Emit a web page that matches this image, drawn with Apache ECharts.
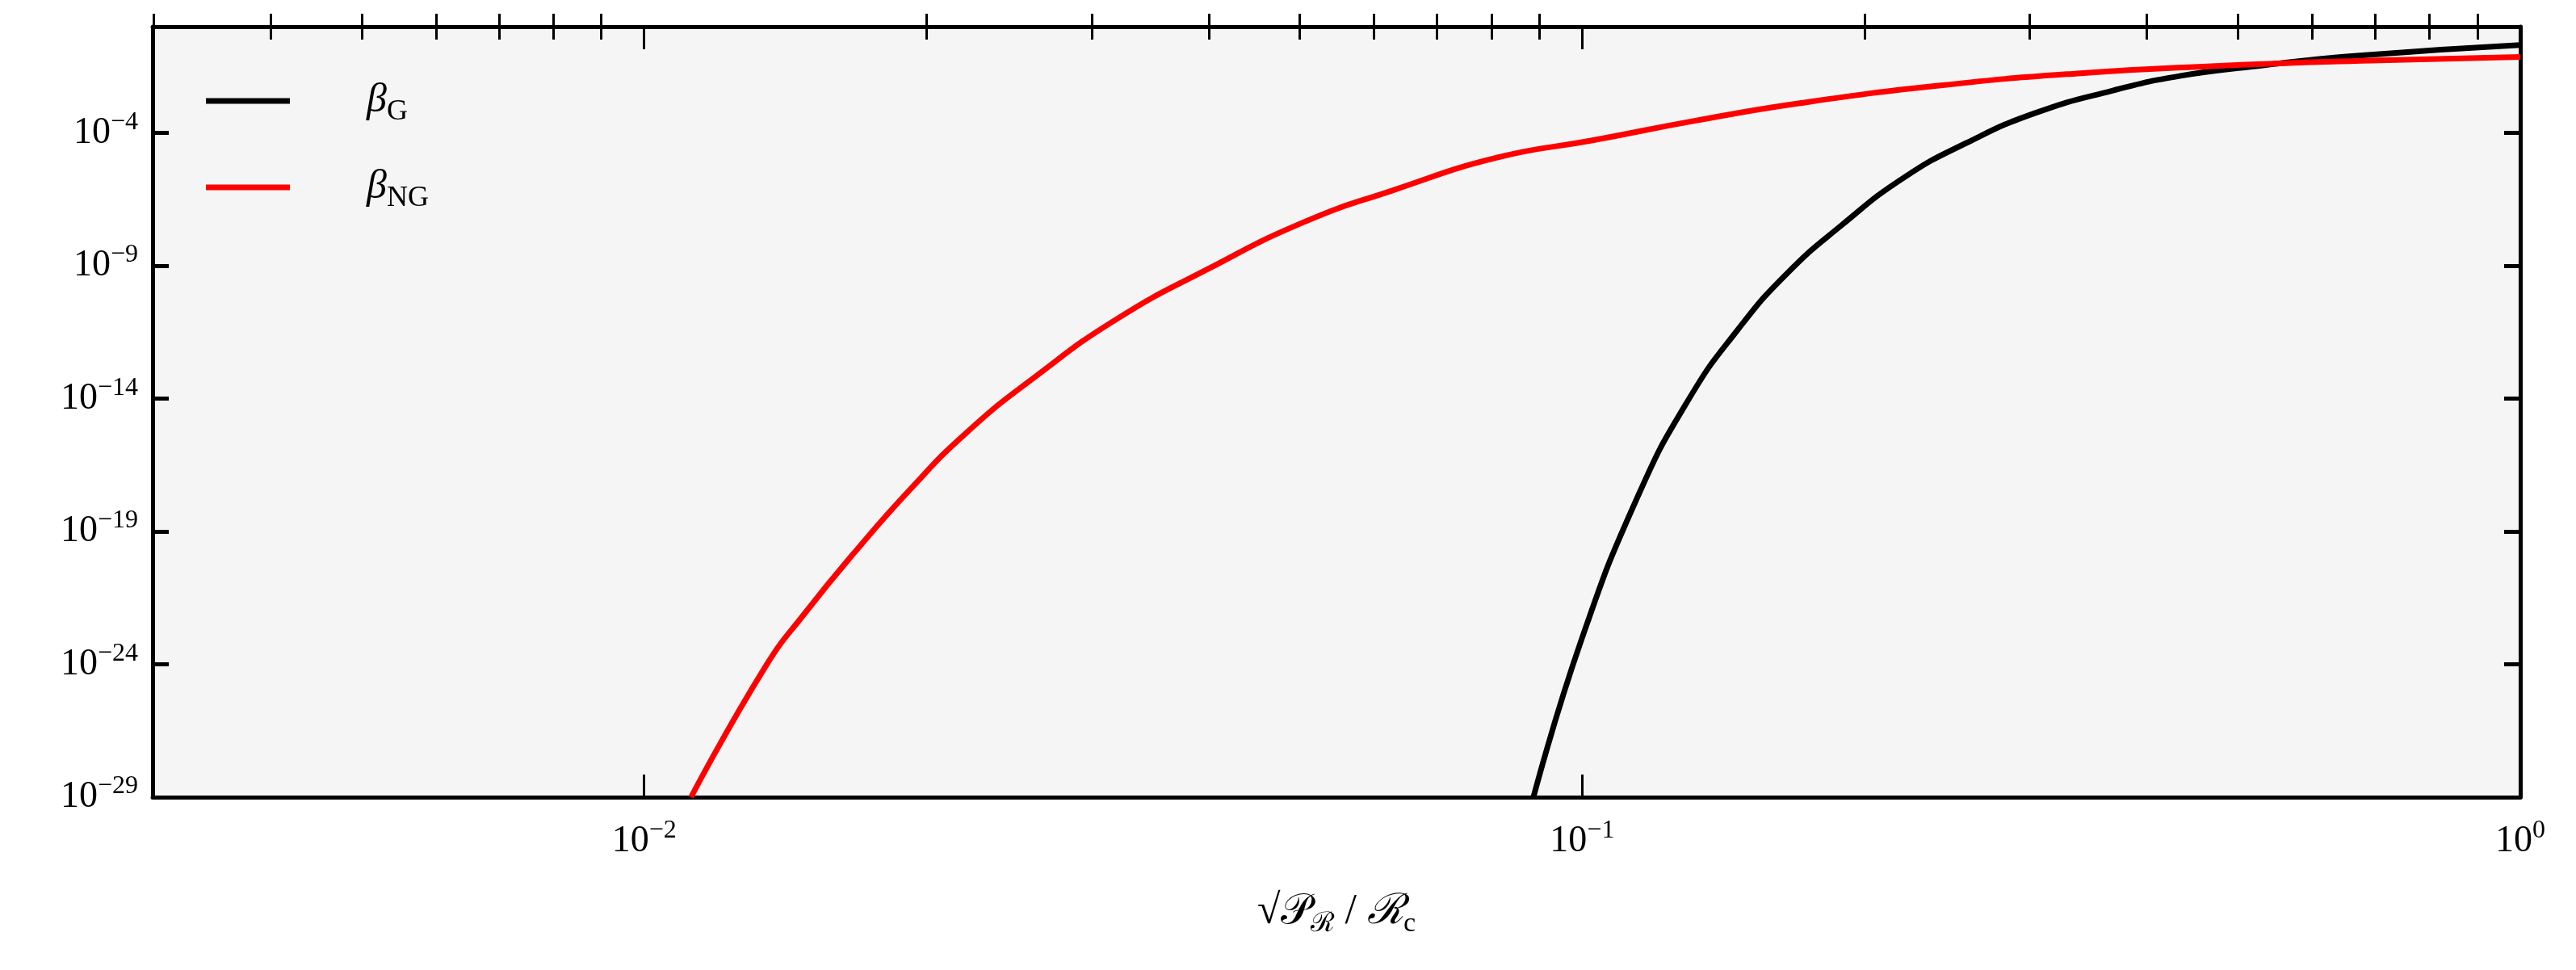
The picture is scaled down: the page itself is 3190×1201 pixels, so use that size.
<!DOCTYPE html>
<html>
<head>
<meta charset="utf-8">
<script src="https://cdn.jsdelivr.net/npm/echarts@6/dist/echarts.min.js"></script>
<style>
  html, body { margin: 0; padding: 0; background: #fff; }
  #chart { width: 3190px; height: 1201px; }
</style>
</head>
<body>
<div id="chart"></div>
<script>
(function(){
  // log10 of x and log10 of beta
  var logXG = [-1.052, -1.002, -0.941, -0.886, -0.834, -0.782, -0.723, -0.657, -0.590, -0.517, -0.435, -0.362, -0.280, -0.177, 0];
  var logBetaG = [-29.0, -23.2, -17.7, -14.0, -11.4, -9.3, -7.46, -5.68, -4.37, -3.25, -2.41, -1.85, -1.48, -1.10, -0.69];

  var logXNG = [-1.950, -1.871, -1.827, -1.776, -1.716, -1.657, -1.584, -1.496, -1.400, -1.297, -1.201, -1.091, -0.989, -0.878, -0.768, -0.620, -0.472, -0.325, -0.177, 0];
  var logBetaNG = [-29.0, -24.1, -22.0, -19.8, -17.4, -15.3, -13.2, -11.0, -9.14, -7.36, -6.15, -4.93, -4.28, -3.53, -2.88, -2.22, -1.76, -1.48, -1.29, -1.14];

  var xMajor = [-2, -1, 0];
  var yMajor = [-29, -24, -19, -14, -9, -4];
  var xMin = -2.524, xMax = 0, yMin = -29, yMax = 0;

  var xMinor = [];
  [-3, -2, -1].forEach(function(d){
    for (var k = 2; k <= 9; k++) {
      var v = d + Math.log10(k);
      if (v > xMin && v < xMax) xMinor.push(v);
    }
  });

  function pairs(xs, ys){ return xs.map(function(x, i){ return [x, ys[i]]; }); }

  var font = '"Liberation Serif", "DejaVu Serif", serif';
  var supers = {'-':'\u207B','0':'\u2070','1':'\u00B9','2':'\u00B2','3':'\u00B3','4':'\u2074','5':'\u2075','6':'\u2076','7':'\u2077','8':'\u2078','9':'\u2079'};
  function pow(v){
    return '{b|10}{s|' + String(Math.round(v)).replace('-', '\u2212') + '}';
  }
  var labelRich = {
    b: { fontFamily: font, fontSize: 46, color: '#000' },
    s: { fontFamily: font, fontSize: 32, color: '#000', verticalAlign: 'bottom', padding: [0, 0, 26, 0] }
  };

  var myChart = echarts.init(document.getElementById('chart'));

  var axisLine = { show: true, onZero: false, lineStyle: { color: '#000', width: 5 } };

  option = {
    backgroundColor: '#fff',
    animation: false,
    grid: { left: 189, right: 69, top: 33, bottom: 214, backgroundColor: '#f5f5f5', show: true, borderWidth: 0 },
    legend: {
      left: 250, top: 95, orient: 'vertical', itemGap: 50,
      itemWidth: 104, itemHeight: 7,
      data: [{ name: 'G', icon: 'rect' }, { name: 'NG', icon: 'rect' }],
      formatter: function(n){ return '{g|\u03B2}{sub|' + n + '}'; },
      textStyle: {
        padding: [0, 0, 0, 90],
        rich: {
          g: { fontFamily: font, fontStyle: 'italic', fontSize: 50, color: '#000' },
          sub: { fontFamily: font, fontSize: 36, color: '#000', verticalAlign: 'top', padding: [28, 0, 0, 0] }
        }
      }
    },
    xAxis: [
      {
        type: 'value', min: xMin, max: xMax, position: 'bottom',
        axisLine: axisLine,
        splitLine: { show: false },
        axisTick: { inside: true, length: 28, lineStyle: { width: 3, color: '#000' }, customValues: xMajor },
        axisLabel: { margin: 26, customValues: xMajor, formatter: pow, rich: labelRich },
        name: '{r|\u221A}{o|\uD835\uDCAB}{sb|\u211B}{r| / }{c|\u211B}{sb|c}',
        nameLocation: 'middle', nameGap: 110,
        nameTextStyle: {
          rich: {
            r: { fontFamily: font, fontSize: 52, color: '#000' },
            o: { fontFamily: font, fontSize: 52, color: '#000', borderColor: '#000', borderWidth: 0 },
            c: { fontFamily: font, fontSize: 52, fontStyle: 'italic', color: '#000' },
            sb: { fontFamily: font, fontSize: 34, color: '#000', verticalAlign: 'top', padding: [30, 0, 0, 0] }
          }
        }
      },
      {
        type: 'value', min: xMin, max: xMax, position: 'bottom',
        axisLine: { show: false }, splitLine: { show: false }, axisLabel: { show: false },
        axisTick: { inside: true, length: 16, lineStyle: { width: 3, color: '#000' }, customValues: xMinor }
      },
      {
        type: 'value', min: xMin, max: xMax, position: 'top',
        axisLine: axisLine, splitLine: { show: false }, axisLabel: { show: false },
        axisTick: { inside: true, length: 28, lineStyle: { width: 3, color: '#000' }, customValues: xMajor }
      },
      {
        type: 'value', min: xMin, max: xMax, position: 'top',
        axisLine: { show: false }, splitLine: { show: false }, axisLabel: { show: false },
        axisTick: { inside: true, length: 16, lineStyle: { width: 3, color: '#000' }, customValues: xMinor }
      }
    ],
    yAxis: [
      {
        type: 'value', min: yMin, max: yMax, position: 'left',
        axisLine: axisLine, splitLine: { show: false },
        axisTick: { inside: true, length: 20, lineStyle: { width: 5, color: '#000' }, customValues: yMajor },
        axisLabel: { margin: 18, customValues: yMajor, formatter: pow, rich: labelRich }
      },
      {
        type: 'value', min: yMin, max: yMax, position: 'right',
        axisLine: axisLine, splitLine: { show: false }, axisLabel: { show: false },
        axisTick: { inside: true, length: 20, lineStyle: { width: 5, color: '#000' }, customValues: yMajor }
      }
    ],
    series: [
      {
        name: 'G', type: 'line', smooth: true, showSymbol: false, clip: true,
        color: '#000', lineStyle: { color: '#000', width: 7 },
        data: pairs(logXG, logBetaG)
      },
      {
        name: 'NG', type: 'line', smooth: true, showSymbol: false, clip: true,
        color: '#ff0000', lineStyle: { color: '#ff0000', width: 7 },
        data: pairs(logXNG, logBetaNG)
      }
    ]
  };

  myChart.setOption(option);
})()
</script>
</body>
</html>
